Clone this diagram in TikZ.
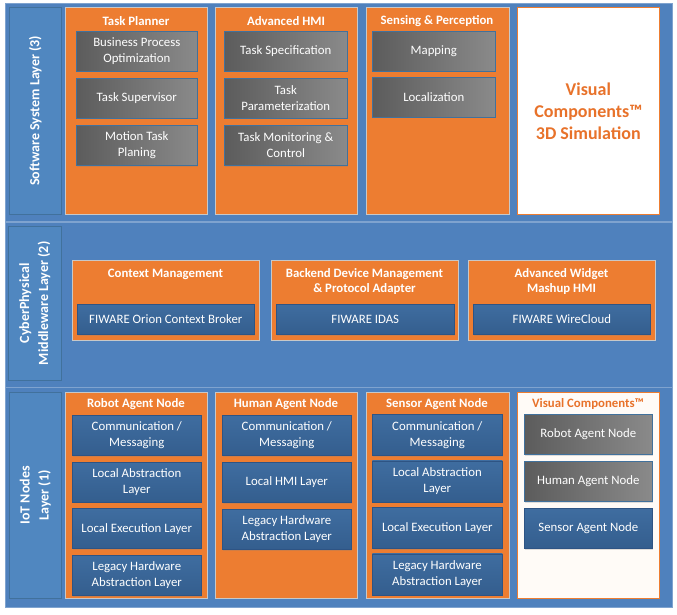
\documentclass[tikz,border=0pt]{standalone}
\usepackage{fontspec}
\setmainfont{Carlito}
\usetikzlibrary{shadows}

\definecolor{panelblue}{HTML}{4F81BD}
\definecolor{panelline}{HTML}{7FA3CF}
\definecolor{labelblue}{HTML}{5087C0}
\definecolor{labelline}{HTML}{41719C}
\definecolor{grouporange}{HTML}{ED7D31}
\definecolor{groupline}{HTML}{C8C8C8}
\definecolor{graydk}{HTML}{5C5C5C}
\definecolor{graylt}{HTML}{8A8A8A}
\definecolor{bluetop}{HTML}{3F6DA0}
\definecolor{bluebot}{HTML}{345E8E}
\definecolor{boxline}{HTML}{2E5484}
\definecolor{vctext}{HTML}{E8722A}

\tikzset{
  layer/.style={draw=panelline, fill=panelblue, line width=0.8pt, anchor=north west, inner sep=0pt},
  layerlabel/.style={draw=labelline, fill=labelblue, line width=0.6pt, anchor=north west, inner sep=0pt},
  labeltext/.style={text=white, align=center, rotate=90, font=\fontsize{14}{19}\selectfont\bfseries},
  group/.style={draw=groupline, fill=grouporange, line width=0.8pt, anchor=north west, inner sep=0pt},
  whitegroup/.style={draw=grouporange, fill=white, line width=0.6pt, anchor=north west, inner sep=0pt},
  grouptitle/.style={text=white, align=center, font=\fontsize{12.8}{15.5}\selectfont\bfseries},
  graybox/.style={draw=labelline, left color=graydk, right color=graylt, line width=0.6pt,
    anchor=north west, inner sep=0pt, text=white, align=center, font=\fontsize{12.8}{16}\selectfont,
    drop shadow={opacity=0.25, shadow xshift=1pt, shadow yshift=-1.2pt}},
  bluebox/.style={draw=boxline, top color=bluetop, bottom color=bluebot, line width=0.6pt,
    anchor=north west, inner sep=0pt, text=white, align=center, font=\fontsize{12.8}{16}\selectfont,
    drop shadow={opacity=0.25, shadow xshift=1pt, shadow yshift=-1.2pt}},
}

\begin{document}
\begin{tikzpicture}[x=1pt,y=-1pt]
  \useasboundingbox (0,0) rectangle (677,615);

  % Software System Layer (3)
  \node[layer, minimum width=667, minimum height=218] (sw) at (5,3) {};
  \node[layerlabel, minimum width=52, minimum height=207] (swlabel) at (9,7) {};
  \node[labeltext] (swtext) at (swlabel.center) {Software System Layer (3)};

  \node[group, minimum width=142, minimum height=207] (tp) at (65,7) {};
  \node[grouptitle] (tptitle) at (136,21) {Task Planner};
  \foreach \t [count=\i from 0] in {{Business Process\\Optimization}, {Task Supervisor}, {Motion Task\\Planing}}
    \node[graybox, minimum width=121, minimum height=40] (tp\i) at (76,31+47*\i) {\t};

  \node[group, minimum width=142, minimum height=207] (hmi) at (215,7) {};
  \node[grouptitle] (hmititle) at (286,21) {Advanced HMI};
  \foreach \t [count=\i from 0] in {{Task Specification}, {Task\\Parameterization}, {Task Monitoring \&\\Control}}
    \node[graybox, minimum width=123, minimum height=40] (hmi\i) at (224,31+47*\i) {\t};

  \node[group, minimum width=143, minimum height=207] (sp) at (366,7) {};
  \node[grouptitle] (sptitle) at (437,21) {Sensing \& Perception};
  \node[graybox, minimum width=123, minimum height=40] (map) at (372,31) {Mapping};
  \node[graybox, minimum width=123, minimum height=40] (loc) at (372,77) {Localization};

  \node[whitegroup, minimum width=142, minimum height=207, text=vctext, align=center,
    font=\fontsize{18}{22}\selectfont\bfseries] (vcsim) at (517,7) {Visual\\Components™\\3D Simulation};

  % CyberPhysical Middleware Layer (2)
  \node[layer, minimum width=667, minimum height=165] (mw) at (5,222) {};
  \node[layerlabel, minimum width=53, minimum height=154] (mwlabel) at (8,226) {};
  \node[labeltext] (mwtext) at (mwlabel.center) {CyberPhysical\\Middleware Layer (2)};

  \node[group, minimum width=187, minimum height=80] (cm) at (72,260) {};
  \node[grouptitle] (cmtitle) at (165.5,274) {Context Management};
  \node[bluebox, minimum width=177, minimum height=30] (orion) at (77,304) {FIWARE Orion Context Broker};

  \node[group, minimum width=187, minimum height=80] (bdm) at (271,260) {};
  \node[grouptitle] (bdmtitle) at (364.5,281.5) {Backend Device Management\\\& Protocol Adapter};
  \node[bluebox, minimum width=178, minimum height=30] (idas) at (276,304) {FIWARE IDAS};

  \node[group, minimum width=187, minimum height=80] (awm) at (468,260) {};
  \node[grouptitle] (awmtitle) at (561.5,281.5) {Advanced Widget\\Mashup HMI};
  \node[bluebox, minimum width=177, minimum height=30] (wirecloud) at (473,304) {FIWARE WireCloud};

  % IoT Nodes Layer (1)
  \node[layer, minimum width=667, minimum height=220] (iot) at (5,387) {};
  \node[layerlabel, minimum width=52, minimum height=206] (iotlabel) at (9,392) {};
  \node[labeltext] (iottext) at (iotlabel.center) {IoT Nodes\\Layer (1)};

  \node[group, minimum width=142, minimum height=206] (robot) at (65,392) {};
  \node[grouptitle] (robottitle) at (136,404) {Robot Agent Node};
  \foreach \t [count=\i from 0] in {{Communication /\\Messaging}, {Local Abstraction\\Layer}, {Local Execution Layer}, {Legacy Hardware\\Abstraction Layer}}
    \node[bluebox, minimum width=129, minimum height=40] (robot\i) at (72,415+46.7*\i) {\t};

  \node[group, minimum width=142, minimum height=206] (human) at (215,392) {};
  \node[grouptitle] (humantitle) at (286,404) {Human Agent Node};
  \foreach \t [count=\i from 0] in {{Communication /\\Messaging}, {Local HMI Layer}, {Legacy Hardware\\Abstraction Layer}}
    \node[bluebox, minimum width=129, minimum height=40] (human\i) at (222,415+47*\i) {\t};

  \node[group, minimum width=143, minimum height=206] (sensor) at (366,392) {};
  \node[grouptitle] (sensortitle) at (437,404) {Sensor Agent Node};
  \foreach \t [count=\i from 0] in {{Communication /\\Messaging}, {Local Abstraction\\Layer}, {Local Execution Layer}, {Legacy Hardware\\Abstraction Layer}}
    \node[bluebox, minimum width=130, minimum height=41] (sensor\i) at (372,414+46.5*\i) {\t};

  \node[whitegroup, fill=orange!3, minimum width=142, minimum height=206] (vcnodes) at (517,392) {};
  \node[grouptitle, text=vctext] (vctitle) at (588,404) {Visual Components™};
  \node[graybox, minimum width=128, minimum height=40] (vcrobot) at (524,414) {Robot Agent Node};
  \node[graybox, minimum width=128, minimum height=40] (vchuman) at (524,461) {Human Agent Node};
  \node[bluebox, minimum width=128, minimum height=40] (vcsensor) at (524,508) {Sensor Agent Node};
\end{tikzpicture}
\end{document}
